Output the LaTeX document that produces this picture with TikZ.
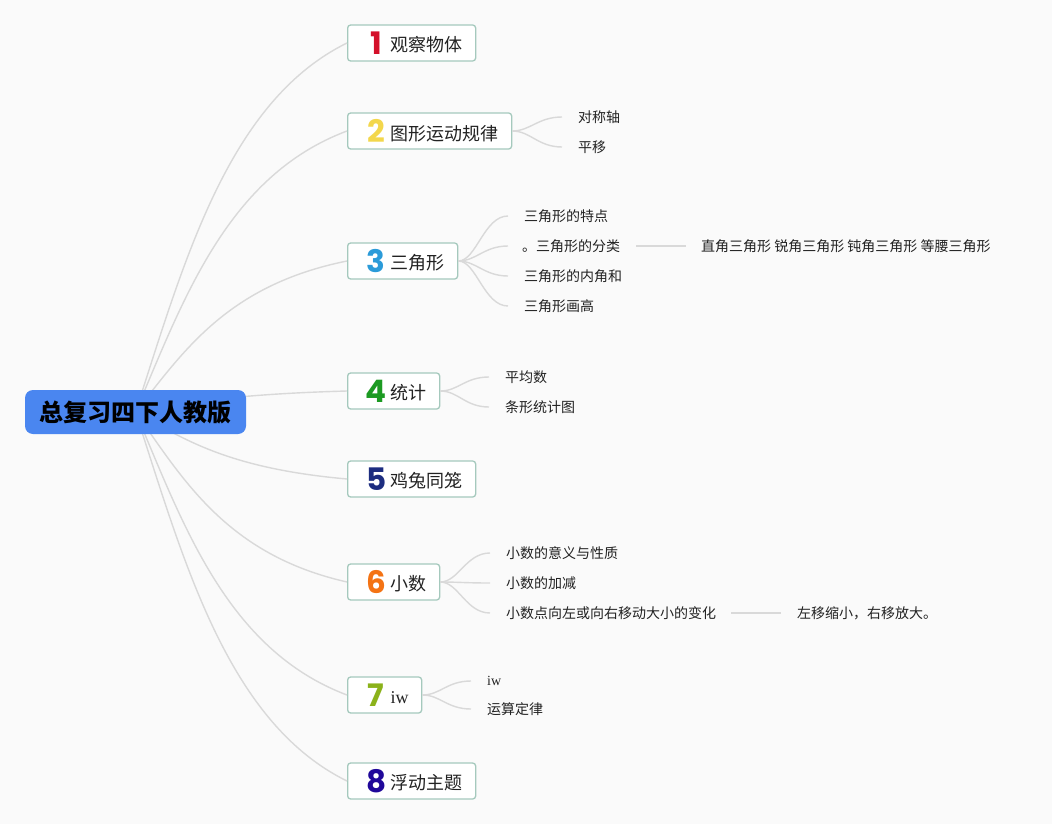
\documentclass[tikz,border=0pt]{standalone}
\usepackage{fontspec}
\setmainfont{Noto Sans CJK SC}
\newfontfamily\numfont{Poppins}
\newfontfamily\seriffont{Liberation Serif}
\usetikzlibrary{calc}
\definecolor{bg}{HTML}{FAFAFA}
\definecolor{boxborder}{HTML}{A5C9BD}
\definecolor{linegray}{HTML}{D9D9D9}
\definecolor{rootblue}{HTML}{4A86F0}
\definecolor{txt}{HTML}{222222}
\definecolor{nA}{HTML}{D4102A}
\definecolor{nB}{HTML}{F3D74C}
\definecolor{nC}{HTML}{2B9BD9}
\definecolor{nD}{HTML}{1C9A22}
\definecolor{nE}{HTML}{1D2D80}
\definecolor{nF}{HTML}{F47314}
\definecolor{nG}{HTML}{8BB21A}
\definecolor{nH}{HTML}{20089A}
\newcommand\numlbl[2]{\hspace*{14pt}\makebox[29pt]{\numfont\bfseries\fontsize{31}{31}\selectfont\color{#1}#2}}
\newcommand\boxtxt[1]{\raisebox{2.5pt}{#1}\hspace*{13pt}}
\begin{document}
\begin{tikzpicture}[x=1pt,y=-1pt,
  mainbox/.style={draw=boxborder, fill=white, line width=1.3pt, rounded corners=3pt,
    minimum height=36pt, inner xsep=0pt, inner ysep=0pt, anchor=west, text=txt,
    font=\fontsize{18}{18}\selectfont},
  rootbox/.style={fill=rootblue, rounded corners=8pt, minimum width=221pt, minimum height=44pt,
    inner sep=0pt, text=black, font=\fontsize{24}{24}\selectfont\bfseries},
  leaf/.style={anchor=west, inner sep=0pt, text=txt, font=\fontsize{14}{14}\selectfont},
  conn/.style={draw=linegray, line width=1.4pt}]
\fill[bg] (0,0) rectangle (1052,824);
\useasboundingbox (0,0) rectangle (1052,824);

% main topic boxes
\node[mainbox] (b1) at (347,43) {\numlbl{nA}{1}\boxtxt{观察物体}};
\node[mainbox] (b2) at (347,131) {\numlbl{nB}{2}\boxtxt{图形运动规律}};
\node[mainbox] (b3) at (347,261) {\numlbl{nC}{3}\boxtxt{三角形}};
\node[mainbox] (b4) at (347,391) {\numlbl{nD}{4}\boxtxt{统计}};
\node[mainbox] (b5) at (347,479) {\numlbl{nE}{5}\boxtxt{鸡兔同笼}};
\node[mainbox] (b6) at (347,582) {\numlbl{nF}{6}\boxtxt{小数}};
\node[mainbox] (b7) at (347,695) {\numlbl{nG}{7}\boxtxt{\seriffont iw}};
\node[mainbox] (b8) at (347,781) {\numlbl{nH}{8}\boxtxt{浮动主题}};

% leaves
\node[leaf] (c21) at (578,117) {对称轴};
\node[leaf] (c22) at (578,147) {平移};
\node[leaf] (c31) at (524,216) {三角形的特点};
\node[leaf] (c32) at (522,246) {。三角形的分类};
\node[leaf] (c33) at (524,276) {三角形的内角和};
\node[leaf] (c34) at (524,306) {三角形画高};
\node[leaf] (g32) at (701,246) {直角三角形 锐角三角形 钝角三角形 等腰三角形};
\node[leaf] (c41) at (505,377) {平均数};
\node[leaf] (c42) at (505,407) {条形统计图};
\node[leaf] (c61) at (506,553) {小数的意义与性质};
\node[leaf] (c62) at (506,583) {小数的加减};
\node[leaf] (c63) at (506,613) {小数点向左或向右移动大小的变化};
\node[leaf] (g63) at (797,613) {左移缩小，右移放大。};
\node[leaf] (c71) at (487,681) {\seriffont iw};
\node[leaf] (c72) at (487,709) {运算定律};

% root connectors
\coordinate (rc) at (135.5,412);
\draw[conn] (rc) .. controls +(48,-147.6) and +(-120,59) .. (b1.west);
\draw[conn] (rc) .. controls +(48,-112.4) and +(-120,45) .. (b2.west);
\draw[conn] (rc) .. controls +(48,-60.4) and +(-120,24.2) .. (b3.west);
\draw[conn] (rc) .. controls +(48,-8.4) and +(-120,3.4) .. (b4.west);
\draw[conn] (rc) .. controls +(48,26.8) and +(-120,-10.7) .. (b5.west);
\draw[conn] (rc) .. controls +(48,68) and +(-120,-27.2) .. (b6.west);
\draw[conn] (rc) .. controls +(48,113.2) and +(-120,-45.3) .. (b7.west);
\draw[conn] (rc) .. controls +(48,147.6) and +(-120,-59) .. (b8.west);
\node[rootbox] (root) at (rc) {总复习四下人教版};

% sub connectors
\foreach \b/\c in {b2/c21,b2/c22,b3/c31,b3/c33,b3/c34,b4/c41,b4/c42,b6/c61,b6/c62,b6/c63,b7/c71,b7/c72}
  \draw[conn] (\b.east) .. controls +(18,0) and +(-24,0) .. ([xshift=-16pt]\c.west);
\draw[conn] (b3.east) .. controls +(18,0) and +(-24,0) .. ([xshift=-14pt]c32.west);
\draw[conn] ([xshift=16pt]c32.east) -- ([xshift=-15pt]g32.west);
\draw[conn] ([xshift=15pt]c63.east) -- ([xshift=-16pt]g63.west);
\end{tikzpicture}
\end{document}
